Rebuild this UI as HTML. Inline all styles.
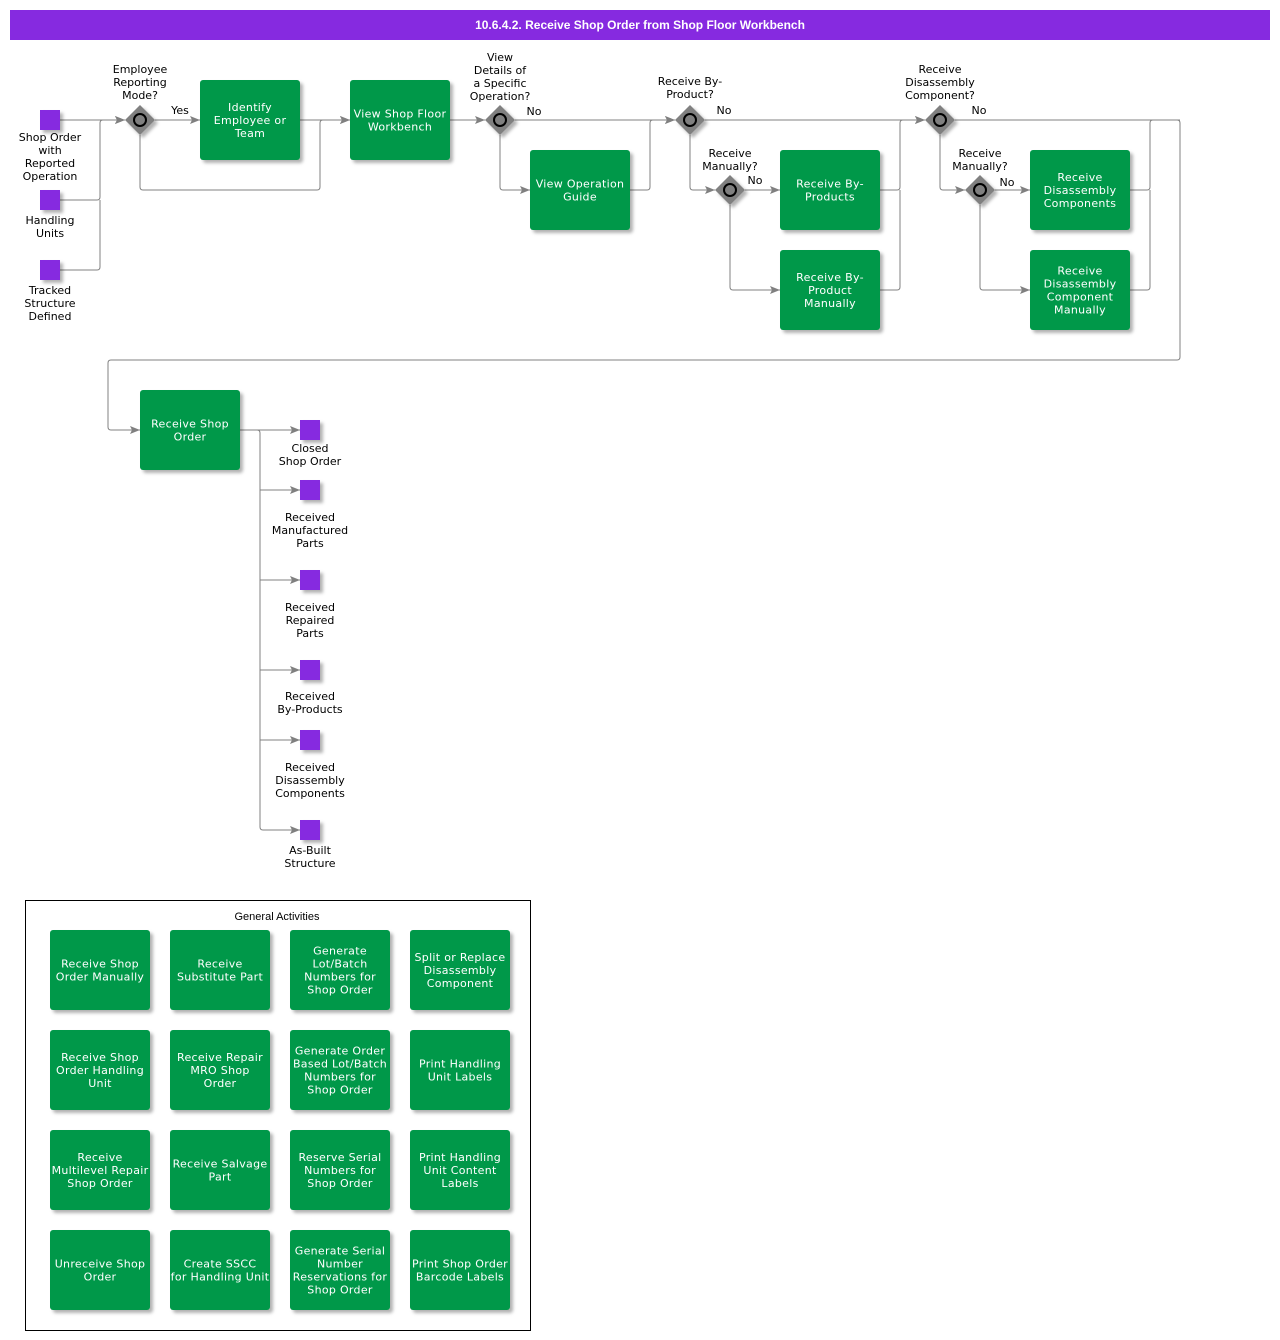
<!DOCTYPE html>
<html><head><meta charset="utf-8"><style>
body{margin:0;background:#fff}
svg{display:block}
.t{font-family:"DejaVu Sans","Liberation Sans",sans-serif;font-size:11px;fill:#000;text-anchor:middle}
.w{font-family:"DejaVu Sans","Liberation Sans",sans-serif;font-size:11px;fill:#fff;text-anchor:middle;letter-spacing:0.3px}
.ln{fill:none;stroke:#808080;stroke-width:1}
.box{fill:#00984a}
.ev{fill:#862ae0}
</style></head><body>
<svg width="1280" height="1340" viewBox="0 0 1280 1340" xmlns="http://www.w3.org/2000/svg">
<defs>
<marker id="a" markerUnits="userSpaceOnUse" markerWidth="10" markerHeight="8" viewBox="0 0 10 8" refX="10" refY="4" orient="auto"><path d="M0,0 L10,4 L0,8 L2,4 z" fill="#808080"/></marker>
<filter id="sh" x="-20%" y="-20%" width="150%" height="150%"><feDropShadow dx="3" dy="3" stdDeviation="1.5" flood-color="#000" flood-opacity="0.3"/></filter>
<g id="gw"><path d="M0,-15 L15,0 L0,15 L-15,0 z" fill="#808080" filter="url(#sh)"/><circle r="6" fill="#808080" stroke="#000" stroke-width="2"/></g>
</defs>
<rect width="1280" height="1340" fill="#fff"/>
<rect x="10" y="10" width="1260" height="30" fill="#862ae0"/>
<text x="640" y="29" style="font-family:'Liberation Sans',Arial,sans-serif;font-size:12px;font-weight:bold;fill:#fff;text-anchor:middle">10.6.4.2. Receive Shop Order from Shop Floor Workbench</text>

<!-- connectors -->
<path class="ln" d="M60,120 L125,120" marker-end="url(#a)"/>
<path class="ln" d="M60,200 L97,200 Q100,200 100,197 L100,123 Q100,120 103,120 L125,120" marker-end="url(#a)"/>
<path class="ln" d="M60,270 L97,270 Q100,270 100,267 L100,200"/>
<path class="ln" d="M155,120 L200,120" marker-end="url(#a)"/>
<path class="ln" d="M140,135 L140,187 Q140,190 143,190 L317,190 Q320,190 320,187 L320,123 Q320,120 323,120 L350,120" marker-end="url(#a)"/>
<path class="ln" d="M300,120 L350,120" marker-end="url(#a)"/>
<path class="ln" d="M450,120 L485,120" marker-end="url(#a)"/>
<path class="ln" d="M515,120 L675,120" marker-end="url(#a)"/>
<path class="ln" d="M500,135 L500,187 Q500,190 503,190 L530,190" marker-end="url(#a)"/>
<path class="ln" d="M630,190 L647,190 Q650,190 650,187 L650,123 Q650,120 653,120 L675,120" marker-end="url(#a)"/>
<path class="ln" d="M705,120 L925,120" marker-end="url(#a)"/>
<path class="ln" d="M690,135 L690,187 Q690,190 693,190 L715,190" marker-end="url(#a)"/>
<path class="ln" d="M745,190 L780,190" marker-end="url(#a)"/>
<path class="ln" d="M730,205 L730,287 Q730,290 733,290 L780,290" marker-end="url(#a)"/>
<path class="ln" d="M880,190 L897,190 Q900,190 900,187 L900,123 Q900,120 903,120 L925,120" marker-end="url(#a)"/>
<path class="ln" d="M880,290 L897,290 Q900,290 900,287 L900,190"/>
<path class="ln" d="M955,120 L1177,120 Q1180,120 1180,123 L1180,357 Q1180,360 1177,360 L111,360 Q108,360 108,363 L108,427 Q108,430 111,430 L140,430" marker-end="url(#a)"/>
<path class="ln" d="M940,135 L940,187 Q940,190 943,190 L965,190" marker-end="url(#a)"/>
<path class="ln" d="M995,190 L1030,190" marker-end="url(#a)"/>
<path class="ln" d="M980,205 L980,287 Q980,290 983,290 L1030,290" marker-end="url(#a)"/>
<path class="ln" d="M1130,190 L1147,190 Q1150,190 1150,187 L1150,123 Q1150,120 1153,120 L1180,120"/>
<path class="ln" d="M1130,290 L1147,290 Q1150,290 1150,287 L1150,190"/>
<path class="ln" d="M240,430 L300,430" marker-end="url(#a)"/>
<path class="ln" d="M240,430 L257,430 Q260,430 260,433 L260,827 Q260,830 263,830 L300,830" marker-end="url(#a)"/>
<path class="ln" d="M260,490 L300,490" marker-end="url(#a)"/>
<path class="ln" d="M260,580 L300,580" marker-end="url(#a)"/>
<path class="ln" d="M260,670 L300,670" marker-end="url(#a)"/>
<path class="ln" d="M260,740 L300,740" marker-end="url(#a)"/>

<!-- start events -->
<g filter="url(#sh)">
<rect class="ev" x="40" y="110" width="20" height="20"/>
<rect class="ev" x="40" y="190" width="20" height="20"/>
<rect class="ev" x="40" y="260" width="20" height="20"/>
<rect class="ev" x="300" y="420" width="20" height="20"/>
<rect class="ev" x="300" y="480" width="20" height="20"/>
<rect class="ev" x="300" y="570" width="20" height="20"/>
<rect class="ev" x="300" y="660" width="20" height="20"/>
<rect class="ev" x="300" y="730" width="20" height="20"/>
<rect class="ev" x="300" y="820" width="20" height="20"/>
</g>
<text class="t" x="50" y="141">Shop Order<tspan x="50" dy="13">with</tspan><tspan x="50" dy="13">Reported</tspan><tspan x="50" dy="13">Operation</tspan></text>
<text class="t" x="50" y="224">Handling<tspan x="50" dy="13">Units</tspan></text>
<text class="t" x="50" y="294">Tracked<tspan x="50" dy="13">Structure</tspan><tspan x="50" dy="13">Defined</tspan></text>

<text class="t" x="310" y="452">Closed<tspan x="310" dy="13">Shop Order</tspan></text>
<text class="t" x="310" y="521">Received<tspan x="310" dy="13">Manufactured</tspan><tspan x="310" dy="13">Parts</tspan></text>
<text class="t" x="310" y="611">Received<tspan x="310" dy="13">Repaired</tspan><tspan x="310" dy="13">Parts</tspan></text>
<text class="t" x="310" y="700">Received<tspan x="310" dy="13">By-Products</tspan></text>
<text class="t" x="310" y="771">Received<tspan x="310" dy="13">Disassembly</tspan><tspan x="310" dy="13">Components</tspan></text>
<text class="t" x="310" y="854">As-Built<tspan x="310" dy="13">Structure</tspan></text>

<!-- gateways -->
<use href="#gw" x="140" y="120"/>
<use href="#gw" x="500" y="120"/>
<use href="#gw" x="690" y="120"/>
<use href="#gw" x="730" y="190"/>
<use href="#gw" x="940" y="120"/>
<use href="#gw" x="980" y="190"/>
<text class="t" x="140" y="73">Employee<tspan x="140" dy="13">Reporting</tspan><tspan x="140" dy="13">Mode?</tspan></text>
<text class="t" x="180" y="114">Yes</text>
<text class="t" x="500" y="61">View<tspan x="500" dy="13">Details of</tspan><tspan x="500" dy="13">a Specific</tspan><tspan x="500" dy="13">Operation?</tspan></text>
<text class="t" x="534" y="115">No</text>
<text class="t" x="690" y="85">Receive By-<tspan x="690" dy="13">Product?</tspan></text>
<text class="t" x="724" y="114">No</text>
<text class="t" x="730" y="157">Receive<tspan x="730" dy="13">Manually?</tspan></text>
<text class="t" x="755" y="184">No</text>
<text class="t" x="940" y="73">Receive<tspan x="940" dy="13">Disassembly</tspan><tspan x="940" dy="13">Component?</tspan></text>
<text class="t" x="979" y="114">No</text>
<text class="t" x="980" y="157">Receive<tspan x="980" dy="13">Manually?</tspan></text>
<text class="t" x="1007" y="186">No</text>

<!-- tasks -->
<g filter="url(#sh)">
<rect class="box" x="200" y="80" width="100" height="80" rx="3"/>
<rect class="box" x="350" y="80" width="100" height="80" rx="3"/>
<rect class="box" x="530" y="150" width="100" height="80" rx="3"/>
<rect class="box" x="780" y="150" width="100" height="80" rx="3"/>
<rect class="box" x="780" y="250" width="100" height="80" rx="3"/>
<rect class="box" x="1030" y="150" width="100" height="80" rx="3"/>
<rect class="box" x="1030" y="250" width="100" height="80" rx="3"/>
<rect class="box" x="140" y="390" width="100" height="80" rx="3"/>
</g>
<text class="w" x="250" y="111">Identify<tspan x="250" dy="13">Employee or</tspan><tspan x="250" dy="13">Team</tspan></text>
<text class="w" x="400" y="117.5">View Shop Floor<tspan x="400" dy="13">Workbench</tspan></text>
<text class="w" x="580" y="187.5">View Operation<tspan x="580" dy="13">Guide</tspan></text>
<text class="w" x="830" y="187.5">Receive By-<tspan x="830" dy="13">Products</tspan></text>
<text class="w" x="830" y="281">Receive By-<tspan x="830" dy="13">Product</tspan><tspan x="830" dy="13">Manually</tspan></text>
<text class="w" x="1080" y="181">Receive<tspan x="1080" dy="13">Disassembly</tspan><tspan x="1080" dy="13">Components</tspan></text>
<text class="w" x="1080" y="274.5">Receive<tspan x="1080" dy="13">Disassembly</tspan><tspan x="1080" dy="13">Component</tspan><tspan x="1080" dy="13">Manually</tspan></text>
<text class="w" x="190" y="427.5">Receive Shop<tspan x="190" dy="13">Order</tspan></text>

<!-- General Activities -->
<rect x="25.5" y="900.5" width="505" height="430" fill="none" stroke="#000" stroke-width="1"/>
<text x="277" y="920" style="font-family:'Liberation Sans',Arial,sans-serif;font-size:11px;fill:#000;text-anchor:middle">General Activities</text>
<g filter="url(#sh)">
<rect class="box" x="50" y="930" width="100" height="80" rx="3"/>
<rect class="box" x="170" y="930" width="100" height="80" rx="3"/>
<rect class="box" x="290" y="930" width="100" height="80" rx="3"/>
<rect class="box" x="410" y="930" width="100" height="80" rx="3"/>
<rect class="box" x="50" y="1030" width="100" height="80" rx="3"/>
<rect class="box" x="170" y="1030" width="100" height="80" rx="3"/>
<rect class="box" x="290" y="1030" width="100" height="80" rx="3"/>
<rect class="box" x="410" y="1030" width="100" height="80" rx="3"/>
<rect class="box" x="50" y="1130" width="100" height="80" rx="3"/>
<rect class="box" x="170" y="1130" width="100" height="80" rx="3"/>
<rect class="box" x="290" y="1130" width="100" height="80" rx="3"/>
<rect class="box" x="410" y="1130" width="100" height="80" rx="3"/>
<rect class="box" x="50" y="1230" width="100" height="80" rx="3"/>
<rect class="box" x="170" y="1230" width="100" height="80" rx="3"/>
<rect class="box" x="290" y="1230" width="100" height="80" rx="3"/>
<rect class="box" x="410" y="1230" width="100" height="80" rx="3"/>
</g>
<text class="w" x="100" y="967.5">Receive Shop<tspan x="100" dy="13">Order Manually</tspan></text>
<text class="w" x="220" y="967.5">Receive<tspan x="220" dy="13">Substitute Part</tspan></text>
<text class="w" x="340" y="954.5">Generate<tspan x="340" dy="13">Lot/Batch</tspan><tspan x="340" dy="13">Numbers for</tspan><tspan x="340" dy="13">Shop Order</tspan></text>
<text class="w" x="460" y="961">Split or Replace<tspan x="460" dy="13">Disassembly</tspan><tspan x="460" dy="13">Component</tspan></text>

<text class="w" x="100" y="1061">Receive Shop<tspan x="100" dy="13">Order Handling</tspan><tspan x="100" dy="13">Unit</tspan></text>
<text class="w" x="220" y="1061">Receive Repair<tspan x="220" dy="13">MRO Shop</tspan><tspan x="220" dy="13">Order</tspan></text>
<text class="w" x="340" y="1054.5">Generate Order<tspan x="340" dy="13">Based Lot/Batch</tspan><tspan x="340" dy="13">Numbers for</tspan><tspan x="340" dy="13">Shop Order</tspan></text>
<text class="w" x="460" y="1067.5">Print Handling<tspan x="460" dy="13">Unit Labels</tspan></text>

<text class="w" x="100" y="1161">Receive<tspan x="100" dy="13">Multilevel Repair</tspan><tspan x="100" dy="13">Shop Order</tspan></text>
<text class="w" x="220" y="1167.5">Receive Salvage<tspan x="220" dy="13">Part</tspan></text>
<text class="w" x="340" y="1161">Reserve Serial<tspan x="340" dy="13">Numbers for</tspan><tspan x="340" dy="13">Shop Order</tspan></text>
<text class="w" x="460" y="1161">Print Handling<tspan x="460" dy="13">Unit Content</tspan><tspan x="460" dy="13">Labels</tspan></text>

<text class="w" x="100" y="1267.5">Unreceive Shop<tspan x="100" dy="13">Order</tspan></text>
<text class="w" x="220" y="1267.5">Create SSCC<tspan x="220" dy="13">for Handling Unit</tspan></text>
<text class="w" x="340" y="1254.5">Generate Serial<tspan x="340" dy="13">Number</tspan><tspan x="340" dy="13">Reservations for</tspan><tspan x="340" dy="13">Shop Order</tspan></text>
<text class="w" x="460" y="1267.5">Print Shop Order<tspan x="460" dy="13">Barcode Labels</tspan></text>
</svg>
</body></html>
